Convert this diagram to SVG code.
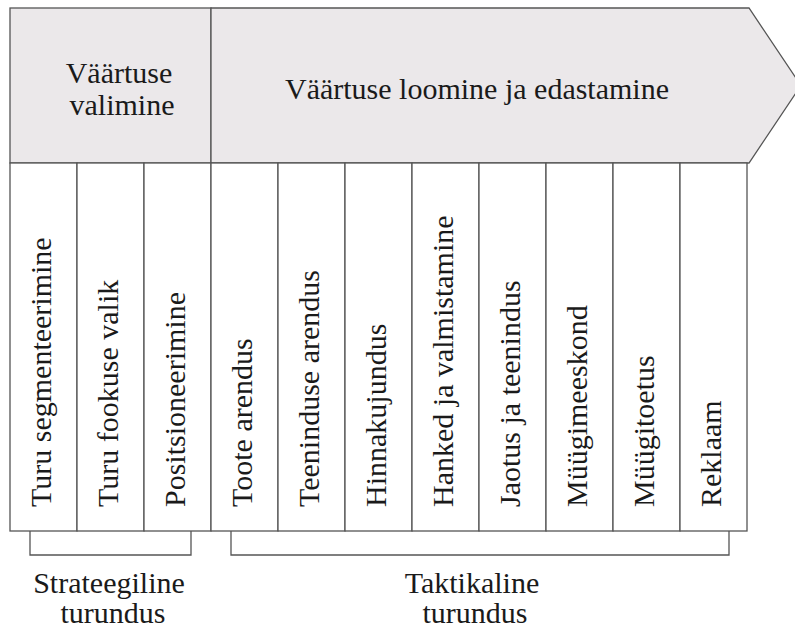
<svg xmlns="http://www.w3.org/2000/svg" width="795" height="630" viewBox="0 0 795 630">
  <rect width="795" height="630" fill="#ffffff"/>
  <style>
    .hdr { fill: #ebe8ea; stroke: #555; stroke-width: 1.3; }
    .col { fill: #ffffff; stroke: #555; stroke-width: 1.3; }
    .brk { fill: none; stroke: #555; stroke-width: 1.3; }
  </style>

  <g id="header-valimine">
    <rect class="hdr" x="10" y="8" width="201" height="155"/>
    <text x="119" y="83" font-family="Liberation Serif" font-size="30" fill="#1a1a1a" text-anchor="middle">Väärtuse</text>
    <text x="122" y="115" font-family="Liberation Serif" font-size="30" fill="#1a1a1a" text-anchor="middle">valimine</text>
  </g>
  <g id="header-loomine">
    <polygon class="hdr" points="211,8 749,8 801,85.5 749,163 211,163"/>
    <text x="477" y="99" font-family="Liberation Serif" font-size="30" fill="#1a1a1a" text-anchor="middle">Väärtuse loomine ja edastamine</text>
  </g>

  <g id="col-1"><rect class="col" x="10" y="163" width="67" height="368"/><text font-family="Liberation Serif" font-size="30" fill="#1a1a1a" transform="translate(50.5,507) rotate(-90)">Turu segmenteerimine</text></g>
  <g id="col-2"><rect class="col" x="77" y="163" width="67" height="368"/><text font-family="Liberation Serif" font-size="30" fill="#1a1a1a" transform="translate(117.5,507) rotate(-90)">Turu fookuse valik</text></g>
  <g id="col-3"><rect class="col" x="144" y="163" width="67" height="368"/><text font-family="Liberation Serif" font-size="30" fill="#1a1a1a" transform="translate(184.5,507) rotate(-90)">Positsioneerimine</text></g>
  <g id="col-4"><rect class="col" x="211" y="163" width="67" height="368"/><text font-family="Liberation Serif" font-size="30" fill="#1a1a1a" transform="translate(251.5,507) rotate(-90)">Toote arendus</text></g>
  <g id="col-5"><rect class="col" x="278" y="163" width="67" height="368"/><text font-family="Liberation Serif" font-size="30" fill="#1a1a1a" transform="translate(318.5,507) rotate(-90)">Teeninduse arendus</text></g>
  <g id="col-6"><rect class="col" x="345" y="163" width="67" height="368"/><text font-family="Liberation Serif" font-size="30" fill="#1a1a1a" transform="translate(385.5,507) rotate(-90)">Hinnakujundus</text></g>
  <g id="col-7"><rect class="col" x="412" y="163" width="67" height="368"/><text font-family="Liberation Serif" font-size="30" fill="#1a1a1a" transform="translate(452.5,507) rotate(-90)">Hanked ja valmistamine</text></g>
  <g id="col-8"><rect class="col" x="479" y="163" width="67" height="368"/><text font-family="Liberation Serif" font-size="30" fill="#1a1a1a" transform="translate(519.5,507) rotate(-90)">Jaotus ja teenindus</text></g>
  <g id="col-9"><rect class="col" x="546" y="163" width="67" height="368"/><text font-family="Liberation Serif" font-size="30" fill="#1a1a1a" transform="translate(586.5,507) rotate(-90)">Müügimeeskond</text></g>
  <g id="col-10"><rect class="col" x="613" y="163" width="67" height="368"/><text font-family="Liberation Serif" font-size="30" fill="#1a1a1a" transform="translate(653.5,507) rotate(-90)">Müügitoetus</text></g>
  <g id="col-11"><rect class="col" x="680" y="163" width="67" height="368"/><text font-family="Liberation Serif" font-size="30" fill="#1a1a1a" transform="translate(720.5,507) rotate(-90)">Reklaam</text></g>

  <g id="connectors">
    <polyline class="brk" points="30,531 30,555 191,555 191,531"/>
    <polyline class="brk" points="231,531 231,555 729,555 729,531"/>
  </g>

  <g id="label-strateegiline">
    <text x="109" y="593" font-family="Liberation Serif" font-size="30" fill="#1a1a1a" text-anchor="middle">Strateegiline</text>
    <text x="113" y="623" font-family="Liberation Serif" font-size="30" fill="#1a1a1a" text-anchor="middle">turundus</text>
  </g>
  <g id="label-taktikaline">
    <text x="472" y="593" font-family="Liberation Serif" font-size="30" fill="#1a1a1a" text-anchor="middle">Taktikaline</text>
    <text x="475" y="623" font-family="Liberation Serif" font-size="30" fill="#1a1a1a" text-anchor="middle">turundus</text>
  </g>
</svg>
